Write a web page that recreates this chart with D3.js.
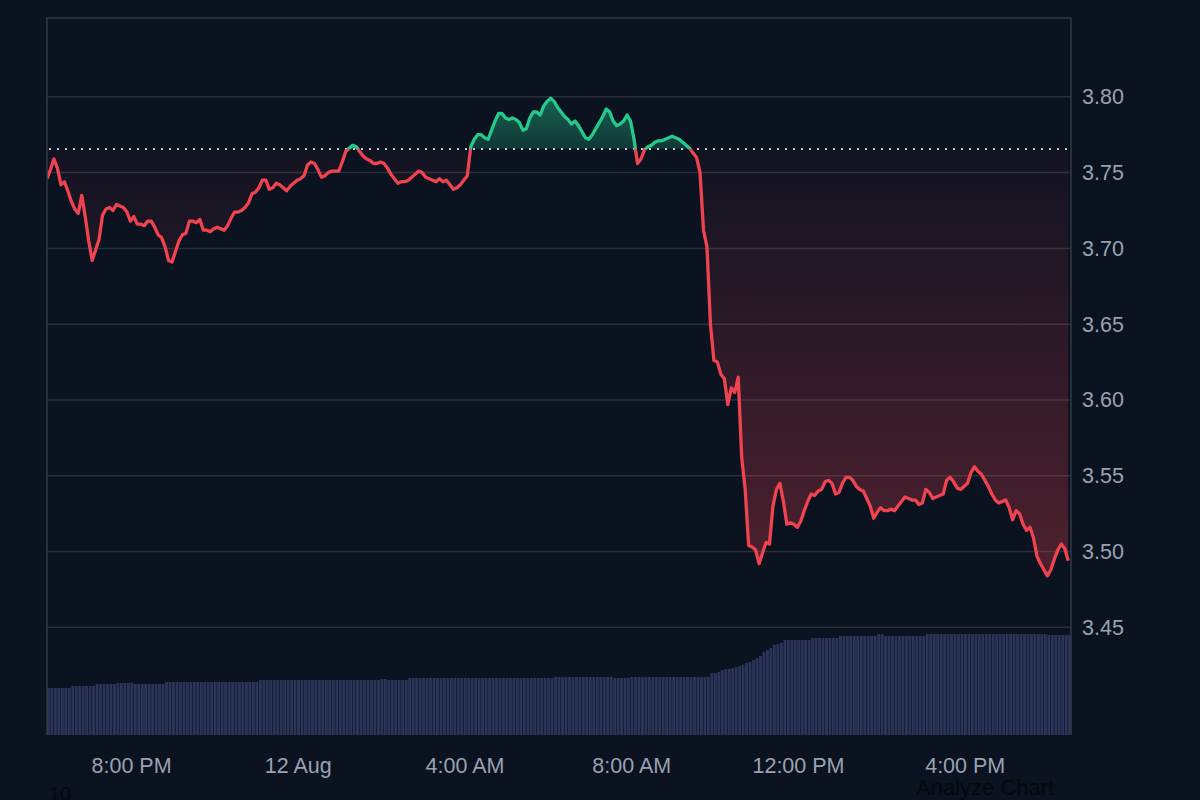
<!DOCTYPE html>
<html>
<head>
<meta charset="utf-8">
<script src="https://cdn.jsdelivr.net/npm/d3@7"></script>
<style>
  html, body { margin: 0; padding: 0; background: #0b1220; }
  svg { display: block; }
</style>
</head>
<body>
<script>
// price every 5 minutes, from 11 Aug 5:59 PM
var startTime = "2024-08-11T17:59:00";
var endTime = "2024-08-12T18:33:00";
var stepMinutes = 5;
var baseline = 3.7655;

var prices = [
  3.746,3.752,3.759,3.753,3.742,3.744,3.738,3.731,3.726,3.723,
  3.735,3.721,3.705,3.692,3.699,3.706,3.722,3.726,3.727,3.725,
  3.729,3.728,3.727,3.724,3.718,3.721,3.716,3.716,3.715,3.718,
  3.718,3.714,3.709,3.707,3.701,3.692,3.691,3.698,3.705,3.709,
  3.710,3.718,3.718,3.717,3.719,3.712,3.712,3.711,3.713,3.714,
  3.713,3.712,3.715,3.720,3.724,3.724,3.725,3.727,3.730,3.736,
  3.737,3.740,3.745,3.745,3.739,3.740,3.743,3.742,3.740,3.738,
  3.741,3.743,3.745,3.746,3.748,3.755,3.757,3.756,3.752,3.747,
  3.748,3.750,3.751,3.751,3.751,3.757,3.764,3.766,3.768,3.767,
  3.764,3.761,3.759,3.758,3.756,3.756,3.757,3.756,3.753,3.749,
  3.746,3.743,3.744,3.744,3.745,3.747,3.749,3.751,3.750,3.747,
  3.746,3.745,3.744,3.746,3.744,3.745,3.742,3.739,3.740,3.742,
  3.745,3.748,3.767,3.772,3.775,3.775,3.773,3.772,3.778,3.784,
  3.789,3.789,3.786,3.785,3.786,3.785,3.783,3.778,3.779,3.786,
  3.790,3.790,3.788,3.794,3.797,3.799,3.797,3.793,3.790,3.787,
  3.785,3.782,3.784,3.781,3.777,3.773,3.772,3.775,3.779,3.783,
  3.787,3.792,3.790,3.784,3.781,3.782,3.784,3.788,3.784,3.772,
  3.756,3.759,3.765,3.767,3.768,3.770,3.771,3.771,3.772,3.773,
  3.774,3.773,3.772,3.770,3.768,3.766,3.763,3.760,3.750,3.712,
  3.701,3.650,3.626,3.625,3.617,3.614,3.597,3.608,3.605,3.615,
  3.562,3.541,3.504,3.503,3.501,3.492,3.499,3.506,3.505,3.530,
  3.541,3.545,3.533,3.518,3.519,3.518,3.516,3.520,3.527,3.533,
  3.538,3.537,3.540,3.541,3.546,3.547,3.545,3.538,3.539,3.545,
  3.549,3.549,3.547,3.543,3.541,3.540,3.535,3.530,3.522,3.526,
  3.529,3.527,3.527,3.528,3.527,3.530,3.533,3.536,3.535,3.534,
  3.534,3.531,3.532,3.541,3.539,3.535,3.536,3.537,3.538,3.547,
  3.549,3.546,3.542,3.541,3.543,3.545,3.552,3.556,3.553,3.551,
  3.547,3.543,3.538,3.534,3.532,3.533,3.534,3.529,3.521,3.527,
  3.525,3.518,3.514,3.516,3.509,3.497,3.492,3.488,3.484,3.488,
  3.495,3.501,3.505,3.502,3.494
];

var volumes = [
  47,47,47,47,47,47,47,49,49,49,
  49,49,49,49,51,51,51,51,51,51,
  52,52,52,52,52,51,51,51,51,51,
  51,51,51,51,53,53,53,53,53,53,
  53,53,53,53,53,53,53,53,53,53,
  53,53,53,53,53,53,53,53,53,53,
  53,55,55,55,55,55,55,55,55,55,
  55,55,55,55,55,55,55,55,55,55,
  55,55,55,55,55,55,55,55,55,55,
  55,55,55,55,55,55,56,56,55,55,
  55,55,55,55,57,57,57,57,57,57,
  57,57,57,57,57,57,57,57,57,57,
  57,57,57,57,57,57,57,57,57,57,
  57,57,57,57,57,57,57,57,57,57,
  57,57,57,57,57,57,58,58,58,58,
  58,58,58,58,58,58,58,58,58,58,
  58,58,58,57,57,57,57,57,58,58,
  58,58,58,58,58,58,58,58,58,58,
  58,58,58,58,58,58,58,58,58,58,
  58,62,62,63,65,66,66,67,68,69,
  70,72,73,75,77,79,83,85,87,90,
  91,92,95,95,95,95,95,95,95,95,
  97,97,97,97,97,97,97,97,99,99,
  99,99,99,99,99,99,99,99,99,101,
  101,99,99,99,99,99,99,99,99,99,
  99,99,99,101,101,101,101,101,101,101,
  101,101,101,101,101,101,101,101,101,101,
  101,101,101,101,101,101,101,101,101,101,
  101,101,101,101,101,101,101,101,100,100,
  100,100,100,100,100
];

var yTicks = [3.45, 3.50, 3.55, 3.60, 3.65, 3.70, 3.75, 3.80];
var xTickTimes = ["2024-08-11T20:00:00", "2024-08-12T00:00:00", "2024-08-12T04:00:00",
                  "2024-08-12T08:00:00", "2024-08-12T12:00:00", "2024-08-12T16:00:00"];
var xTickLabels = ["8:00 PM", "12 Aug", "4:00 AM", "8:00 AM", "12:00 PM", "4:00 PM"];

var W = 1200, H = 800;
var plotLeft = 47, plotRight = 1071, plotTop = 18, plotBottom = 735;
var font = "'Liberation Sans', Arial, sans-serif";
var red = "#ef4350", green = "#25c98c";

var t0 = new Date(startTime);
var data = prices.map(function(p, i) {
  return { t: d3.timeMinute.offset(t0, i * stepMinutes), p: p, v: volumes[i] };
});

var x = d3.scaleTime().domain([t0, new Date(endTime)]).range([plotLeft, plotRight]);
var y = d3.scaleLinear().domain([3.379, 3.852]).range([plotBottom, plotTop]);
var yVol = d3.scaleLinear().domain([0, 110]).range([plotBottom, plotBottom - 110]);
var yb = y(baseline);

var svg = d3.select("body").append("svg")
  .attr("width", W).attr("height", H);

svg.append("rect").attr("width", W).attr("height", H).attr("fill", "#0b1220");

var defs = svg.append("defs");
defs.append("clipPath").attr("id", "plot")
  .append("rect").attr("x", plotLeft).attr("y", plotTop)
  .attr("width", plotRight - plotLeft).attr("height", plotBottom - plotTop);
defs.append("clipPath").attr("id", "above")
  .append("rect").attr("x", plotLeft).attr("y", plotTop)
  .attr("width", plotRight - plotLeft).attr("height", yb - plotTop);
defs.append("clipPath").attr("id", "below")
  .append("rect").attr("x", plotLeft).attr("y", yb)
  .attr("width", plotRight - plotLeft).attr("height", plotBottom - yb);

var gUp = defs.append("linearGradient").attr("id", "gUp")
  .attr("gradientUnits", "userSpaceOnUse")
  .attr("x1", 0).attr("x2", 0).attr("y1", y(3.80)).attr("y2", yb);
gUp.append("stop").attr("offset", 0).attr("stop-color", green).attr("stop-opacity", 0.45);
gUp.append("stop").attr("offset", 1).attr("stop-color", green).attr("stop-opacity", 0.2);

var gDown = defs.append("linearGradient").attr("id", "gDown")
  .attr("gradientUnits", "userSpaceOnUse")
  .attr("x1", 0).attr("x2", 0).attr("y1", yb).attr("y2", y(3.48));
gDown.append("stop").attr("offset", 0).attr("stop-color", red).attr("stop-opacity", 0.03);
gDown.append("stop").attr("offset", 1).attr("stop-color", red).attr("stop-opacity", 0.3);

// grid
svg.append("g")
  .selectAll("line").data(yTicks).enter().append("line")
  .attr("x1", plotLeft).attr("x2", plotRight)
  .attr("y1", d => y(d)).attr("y2", d => y(d))
  .attr("stroke", "#2a303b").attr("stroke-width", 1.5);

// volume
var barW = x(d3.timeMinute.offset(t0, stepMinutes)) - x(t0);
svg.append("g").attr("clip-path", "url(#plot)")
  .selectAll("rect").data(data).enter().append("rect")
  .attr("x", d => x(d.t))
  .attr("y", d => yVol(d.v))
  .attr("width", barW - 0.6)
  .attr("height", d => plotBottom - yVol(d.v))
  .attr("fill", "#2a3559");

var area = d3.area().x(d => x(d.t)).y0(yb).y1(d => y(d.p));
var line = d3.line().x(d => x(d.t)).y(d => y(d.p));

svg.append("path").datum(data).attr("clip-path", "url(#above)")
  .attr("d", area).attr("fill", "url(#gUp)");
svg.append("path").datum(data).attr("clip-path", "url(#below)")
  .attr("d", area).attr("fill", "url(#gDown)");

// previous close
svg.append("line")
  .attr("x1", plotLeft + 2).attr("x2", plotRight - 2)
  .attr("y1", yb).attr("y2", yb)
  .attr("stroke", "#c9ced6").attr("stroke-width", 2)
  .attr("stroke-dasharray", "2,6");

svg.append("path").datum(data).attr("clip-path", "url(#above)")
  .attr("d", line).attr("fill", "none").attr("stroke", green)
  .attr("stroke-width", 3.3).attr("stroke-linejoin", "round");
svg.append("path").datum(data).attr("clip-path", "url(#below)")
  .attr("d", line).attr("fill", "none").attr("stroke", red)
  .attr("stroke-width", 3.3).attr("stroke-linejoin", "round");

// frame
svg.append("path")
  .attr("d", "M" + plotLeft + "," + plotBottom + "V" + plotTop + "H" + plotRight + "V" + plotBottom)
  .attr("fill", "none").attr("stroke", "#333a46").attr("stroke-width", 1.5);

// axes
var yAxis = svg.append("g")
  .attr("transform", "translate(" + plotRight + ",0)")
  .call(d3.axisRight(y).tickValues(yTicks).tickFormat(d3.format(".2f")).tickSize(0).tickPadding(11));
var xAxis = svg.append("g")
  .attr("transform", "translate(0," + plotBottom + ")")
  .call(d3.axisBottom(x).tickValues(xTickTimes.map(d => new Date(d)))
    .tickFormat((d, i) => xTickLabels[i]).tickSize(0).tickPadding(23));

[yAxis, xAxis].forEach(function(g) {
  g.select(".domain").remove();
  g.selectAll("text").attr("fill", "#9aa2b1")
    .style("font-family", font).style("font-size", "21.5px");
});

svg.append("text").attr("x", 49).attr("y", 801).text("10")
  .attr("fill", "#06080c").style("font-family", font).style("font-size", "20px");
svg.append("text").attr("x", 916).attr("y", 795).text("Analyze Chart")
  .attr("fill", "#06080c").style("font-family", font).style("font-size", "22px");
</script>
</body>
</html>
